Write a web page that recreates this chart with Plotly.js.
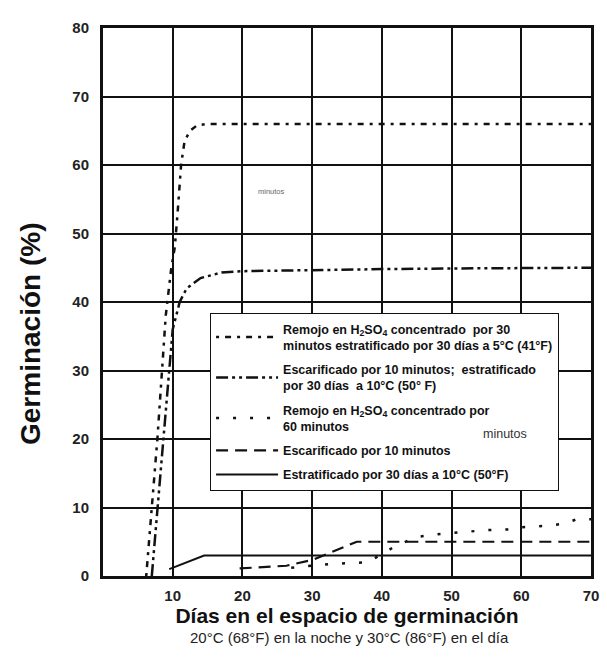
<!DOCTYPE html>
<html>
<head>
<meta charset="utf-8">
<script src="https://cdn.plot.ly/plotly-3.0.1.min.js"></script>
<style>html,body{margin:0;padding:0;background:#fff;}#chart{width:607px;height:663px;}</style>
</head>
<body>
<div id="chart"></div>
<script>
// Series data (días, germinación %)
const remojo30_x = [6.2, 7.0, 7.8, 8.4, 9.0, 9.8, 10.3, 10.7, 11.2, 11.7, 12.5, 13.5, 15, 20, 30, 40, 50, 60, 70];
const remojo30_y = [0, 10, 20, 29, 38, 45, 48, 53, 60, 63.5, 65, 65.8, 66, 66, 66, 66, 66, 66, 66];

const escEstr_x = [7.0, 8.0, 9.0, 10.0, 11.0, 12.0, 14.0, 17.0, 20.0, 30, 40, 50, 60, 70];
const escEstr_y = [0, 12, 25, 36, 40, 42, 43.5, 44.3, 44.5, 44.7, 44.8, 44.9, 45, 45];

const remojo60_x = [27, 30, 33, 36, 38, 42, 45, 48, 52, 55, 58, 60, 63, 66, 68, 70];
const remojo60_y = [1.2, 1.5, 1.8, 1.9, 2.0, 4.4, 5.7, 6.1, 6.5, 6.7, 6.8, 7.1, 7.3, 7.6, 8.3, 8.3];

const escar10_x = [19.6, 26.3, 30.2, 36.4, 40, 50, 60, 70];
const escar10_y = [1.1, 1.5, 2.4, 5.0, 5.0, 5.0, 5.0, 5.0];

const estrat_x = [9.5, 14.5, 20, 30, 40, 50, 60, 70];
const estrat_y = [1.0, 3.0, 3.0, 3.0, 3.0, 3.0, 3.0, 3.0];

const seriesNames = [
  "Remojo en H<sub>2</sub>SO<sub>4</sub> concentrado  por 30<br>minutos estratificado por 30 días a 5°C (41°F)",
  "Escarificado por 10 minutos;  estratificado<br>por 30 días  a 10°C (50° F)",
  "Remojo en H<sub>2</sub>SO<sub>4</sub> concentrado por<br>60 minutos",
  "Escarificado por 10 minutos",
  "Estratificado por 30 días a 10°C (50°F)"
];

const xTicks = [10, 20, 30, 40, 50, 60, 70];
const yTicks = [0, 10, 20, 30, 40, 50, 60, 70, 80];

const FONT = "Liberation Sans, Arial, sans-serif";

const traces = [
  {x: remojo30_x, y: remojo30_y, name: seriesNames[0], mode: 'lines', legendgroup: 'a',
   line: {color: '#111', width: 2.5, dash: '3px,6px,6px,6px'}},
  {x: escEstr_x, y: escEstr_y, name: seriesNames[1], mode: 'lines', legendgroup: 'b',
   line: {color: '#111', width: 2.5, dash: '12px,4px,3px,4px,3px,4px'}},
  {x: remojo60_x, y: remojo60_y, name: seriesNames[2], mode: 'lines', legendgroup: 'c',
   line: {color: '#111', width: 2.5, dash: '3px,14px'}},
  {x: escar10_x, y: escar10_y, name: seriesNames[3], mode: 'lines', legendgroup: 'd',
   line: {color: '#111', width: 2.2, dash: '12px,7px'}},
  {x: estrat_x, y: estrat_y, name: seriesNames[4], mode: 'lines', legendgroup: 'e',
   line: {color: '#111', width: 2, dash: 'solid'}}
];

const layout = {
  width: 607, height: 663,
  margin: {l: 103, r: 16, t: 28, b: 87},
  paper_bgcolor: '#fff', plot_bgcolor: '#fff',
  font: {family: FONT, color: '#111'},
  showlegend: true,
  legend: {
    x: 0.219, y: 0.48, xanchor: 'left', yanchor: 'top',
    bgcolor: '#fff', bordercolor: '#111', borderwidth: 1.2,
    font: {family: FONT, size: 12.5, color: '#111', weight: 'bold'},
    itemwidth: 62, valign: 'middle', tracegroupgap: 5
  },
  xaxis: {
    range: [0, 70], tickvals: xTicks, ticktext: xTicks.map(String),
    showgrid: true, gridcolor: '#111', gridwidth: 2,
    showline: true, linecolor: '#111', linewidth: 3, mirror: true,
    zeroline: false, ticks: '', ticklabelstandoff: 4,
    tickfont: {family: FONT, size: 15, weight: 'bold', color: '#222'},
    title: {text: 'Días en el espacio de germinación', standoff: 4,
            font: {family: FONT, size: 21, weight: 'bold', color: '#111'}}
  },
  yaxis: {
    range: [0, 80], tickvals: yTicks,
    showgrid: true, gridcolor: '#111', gridwidth: 2,
    showline: true, linecolor: '#111', linewidth: 3, mirror: true,
    zeroline: false, ticks: '', ticklabelstandoff: 8,
    tickfont: {family: FONT, size: 15, weight: 'bold', color: '#222'}
  },
  annotations: [
    {xref: 'paper', yref: 'paper', x: -0.1496, y: 0.4416, xanchor: 'center', yanchor: 'middle',
     textangle: -90, text: 'Germinación (%)', showarrow: false,
     font: {family: FONT, size: 28, weight: 'bold', color: '#111'}},
    {xref: 'paper', yref: 'paper', x: 0.506, y: -0.113, xanchor: 'center', yanchor: 'middle',
     text: '20°C (68°F) en la noche y 30°C (86°F) en el día', showarrow: false,
     font: {family: FONT, size: 15, color: '#222'}},
    {xref: 'x', yref: 'y', x: 24.2, y: 56.1, text: 'minutos', showarrow: false,
     font: {family: FONT, size: 7.5, color: '#666'}},
    {xref: 'x', yref: 'y', x: 57.7, y: 20.8, text: 'minutos', showarrow: false,
     font: {family: FONT, size: 12.5, color: '#333'}}
  ]
};

Plotly.newPlot('chart', traces, layout, {displayModeBar: false, staticPlot: true});
</script>
</body>
</html>
